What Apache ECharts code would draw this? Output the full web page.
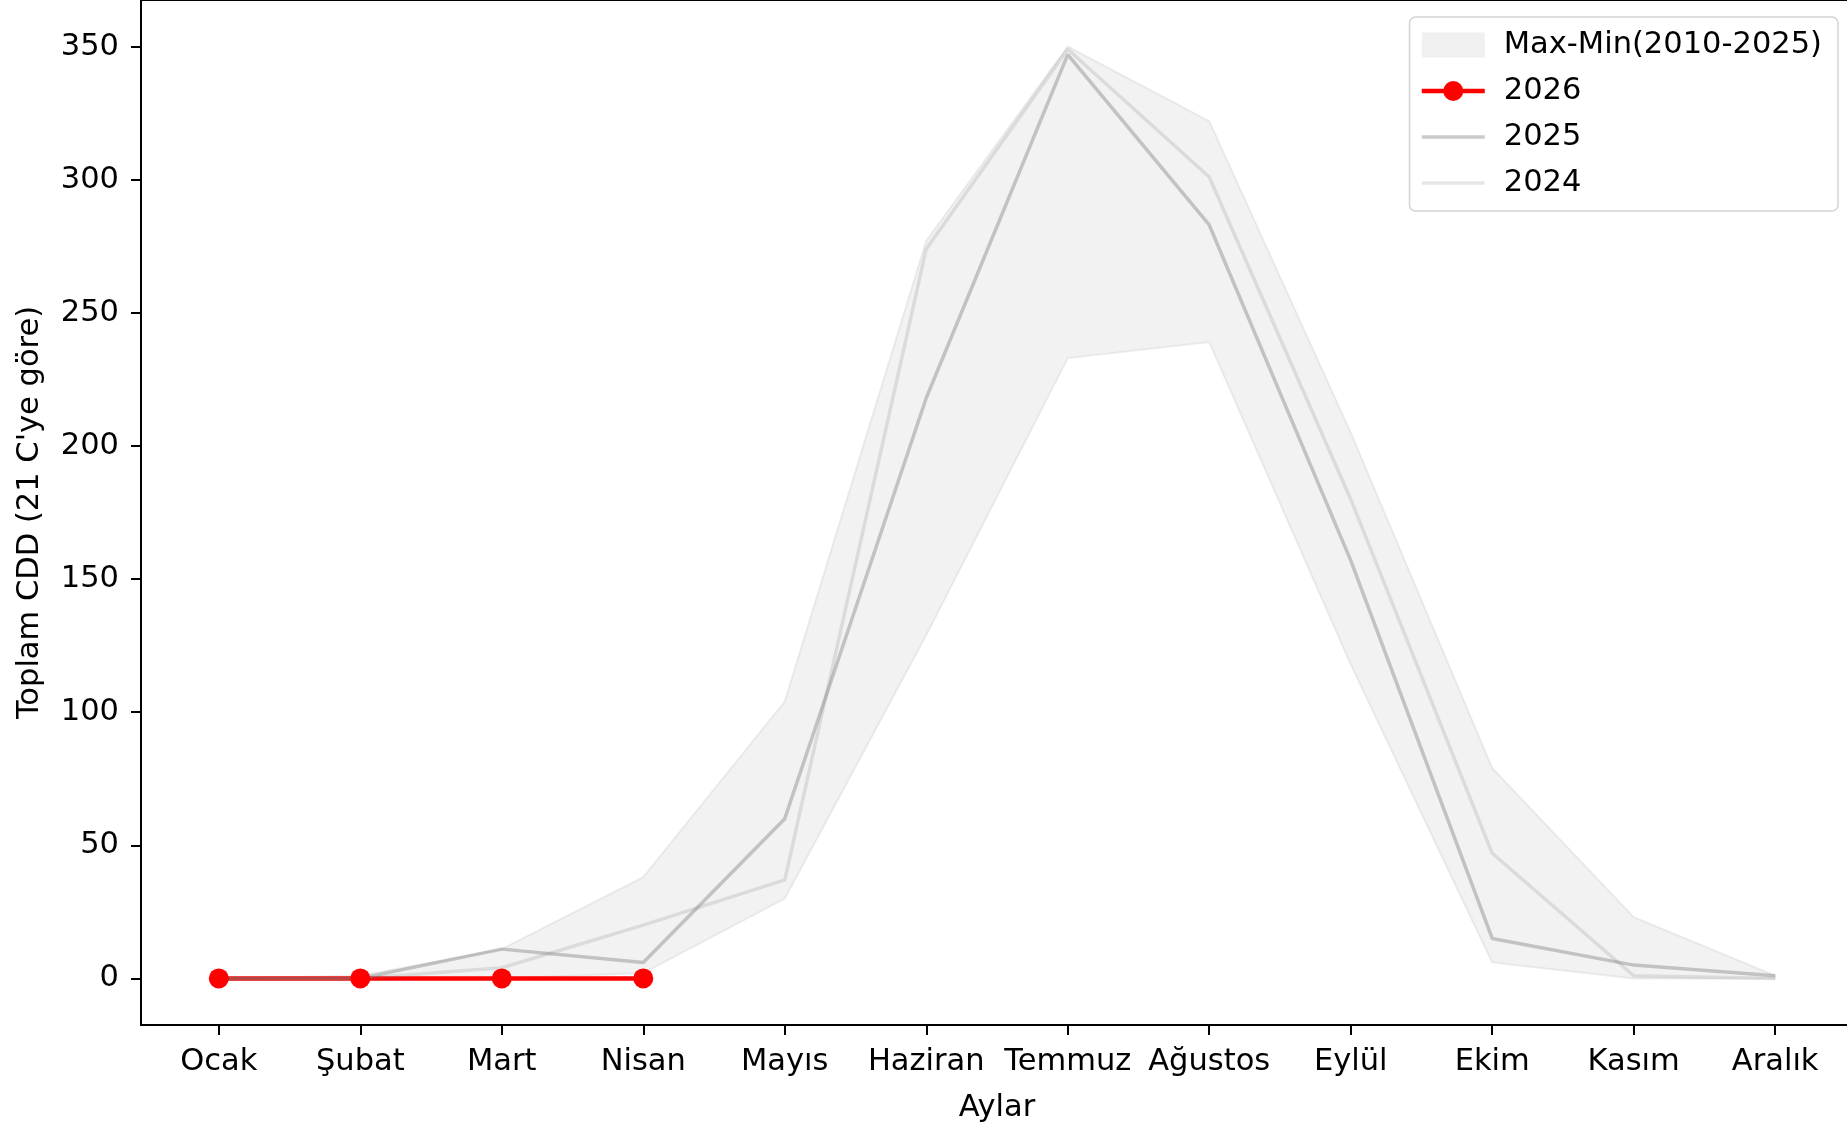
<!DOCTYPE html>
<html>
<head>
<meta charset="utf-8">
<script src="https://cdn.jsdelivr.net/npm/echarts@6/dist/echarts.min.js"></script>
<style>
  html, body { margin: 0; padding: 0; background: #fff; }
  #chart { width: 1847px; height: 1122px; }
</style>
</head>
<body>
<div id="chart"></div>
<script>
// aylar
const months = ['Ocak', 'Şubat', 'Mart', 'Nisan', 'Mayıs', 'Haziran', 'Temmuz', 'Ağustos', 'Eylül', 'Ekim', 'Kasım', 'Aralık']
const yTicks = [0, 50, 100, 150, 200, 250, 300, 350]

// 2010-2025 aralığı
const bandMax = [0, 1, 11, 38, 104, 277, 350, 322, 205, 79, 23, 1]
const bandMin = [0, 0, 0, 2, 30, 129, 233, 239, 118, 6, 0, 0]

const cdd2026 = [0, 0, 0, 0]
const cdd2025 = [0, 0, 11, 6, 60, 218, 347, 283, 157, 15, 5, 1]
const cdd2024 = [0, 0, 4, 20, 37, 274, 349, 301, 180, 47, 1, 0]

const FONT = 'DejaVu Sans'
const FS = 30.5

const toXY = (arr) => arr.map((v, i) => [i, v])

const chart = echarts.init(document.getElementById('chart'), null, { renderer: 'canvas' })

// bant: tek poligon olarak çiziliyor (max üstten, min alttan)
function renderBand(params, api) {
  if (params.dataIndex !== 0) return null
  const upper = bandMax.map((v, i) => api.coord([i, v]))
  const lower = bandMin.map((v, i) => api.coord([i, v])).reverse()
  return {
    type: 'polygon',
    shape: { points: upper.concat(lower) },
    style: {
      fill: 'rgba(211,211,211,0.3)',
      stroke: 'rgba(211,211,211,0.4)',
      lineWidth: 2
    }
  }
}

const option = {
  animation: false,
  backgroundColor: '#fff',
  textStyle: { fontFamily: FONT },
  grid: {
    left: 141,
    top: 0,
    width: 1712,
    height: 1025,
    outerBoundsMode: 'none',
    show: true,
    borderColor: '#000',
    borderWidth: 2,
    backgroundColor: 'transparent'
  },
  legend: {
    orient: 'vertical',
    right: 9,
    top: 17,
    itemWidth: 63,
    itemHeight: 25,
    itemGap: 14,
    padding: [12, 16, 12, 10],
    backgroundColor: '#fff',
    borderColor: '#d4d4d4',
    borderWidth: 1.5,
    borderRadius: 6,
    textStyle: { fontFamily: FONT, fontSize: FS, color: '#000', lineHeight: 32, padding: [0, 0, 0, 14] },
    data: [
      { name: 'Max-Min(2010-2025)', icon: 'rect', itemStyle: { color: '#f0f0f0', borderWidth: 0 } },
      { name: '2026', lineStyle: { width: 4.5 } },
      { name: '2025', lineStyle: { width: 3.5 }, itemStyle: { opacity: 0 } },
      { name: '2024', lineStyle: { width: 3.5 }, itemStyle: { opacity: 0 } }
    ]
  },
  xAxis: {
    type: 'value',
    min: -0.55,
    max: 11.55,
    name: 'Aylar',
    nameLocation: 'middle',
    nameGap: 68,
    nameTextStyle: { fontFamily: FONT, fontSize: FS, color: '#000' },
    splitLine: { show: false },
    axisLine: { show: true, onZero: false, lineStyle: { color: '#000', width: 2 } },
    axisTick: { show: true, length: 10, lineStyle: { color: '#000', width: 2 }, customValues: months.map((m, i) => i) },
    axisLabel: {
      customValues: months.map((m, i) => i),
      margin: 22,
      fontFamily: FONT,
      fontSize: FS,
      color: '#000',
      formatter: (v) => months[Math.round(v)]
    }
  },
  yAxis: {
    type: 'value',
    min: -17.5,
    max: 367.5,
    name: "Toplam CDD (21 C'ye göre)",
    nameLocation: 'middle',
    nameRotate: 90,
    nameGap: 95,
    nameTextStyle: { fontFamily: FONT, fontSize: FS, color: '#000' },
    splitLine: { show: false },
    axisLine: { show: true, onZero: false, lineStyle: { color: '#000', width: 2 } },
    axisTick: { show: true, length: 10, lineStyle: { color: '#000', width: 2 }, customValues: yTicks },
    axisLabel: {
      customValues: yTicks,
      margin: 22,
      padding: [6, 0, 0, 0],
      fontFamily: FONT,
      fontSize: FS,
      color: '#000'
    }
  },
  series: [
    {
      name: 'Max-Min(2010-2025)',
      type: 'custom',
      data: months.map((m, i) => [i, bandMin[i], bandMax[i]]),
      encode: { x: 0, y: [1, 2] },
      itemStyle: { color: '#f0f0f0' },
      renderItem: renderBand,
      silent: true
    },
    {
      name: '2026',
      type: 'line',
      data: toXY(cdd2026),
      symbol: 'circle',
      symbolSize: 20,
      itemStyle: { color: '#ff0000' },
      lineStyle: { color: '#ff0000', width: 4.5 }
    },
    {
      name: '2025',
      type: 'line',
      data: toXY(cdd2025),
      symbol: 'none',
      itemStyle: { color: 'rgba(128,128,128,0.42)' },
      lineStyle: { color: 'rgba(128,128,128,0.42)', width: 3.5 }
    },
    {
      name: '2024',
      type: 'line',
      data: toXY(cdd2024),
      symbol: 'none',
      itemStyle: { color: 'rgba(128,128,128,0.2)' },
      lineStyle: { color: 'rgba(128,128,128,0.2)', width: 3.5 }
    }
  ]
}

chart.setOption(option)
</script>
</body>
</html>
